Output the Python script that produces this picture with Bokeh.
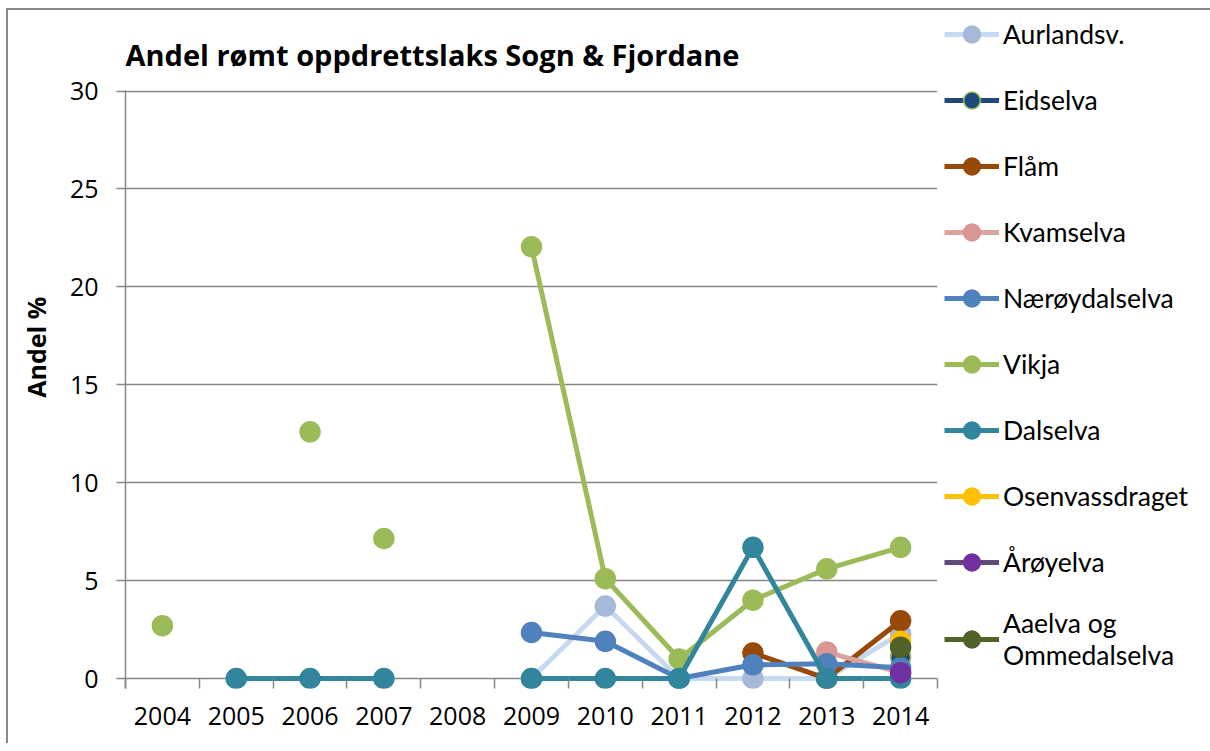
from bokeh.plotting import figure
from bokeh.models import FixedTicker, Legend, LegendItem, ColumnDataSource
from bokeh.embed import file_html
from bokeh.resources import INLINE

nan = float("nan")
years = list(range(2004, 2015))

series_names = ["Aurlandsv.", "Eidselva", "Flåm", "Kvamselva", "Nærøydalselva",
                "Vikja", "Dalselva", "Osenvassdraget", "Årøyelva", "Aaelva og\nOmmedalselva"]

aurlandsv = [nan, nan, nan, nan, nan, 0, 3.7, 0, 0, 0, 2.3]
eidselva = [nan, nan, nan, nan, nan, nan, nan, nan, nan, nan, 1.1]
flam = [nan, nan, nan, nan, nan, nan, nan, nan, 1.3, 0, 2.95]
kvamselva = [nan, nan, nan, nan, nan, nan, nan, nan, nan, 1.35, 0.3]
naeroydalselva = [nan, nan, nan, nan, nan, 2.35, 1.9, 0, 0.7, 0.75, 0.55]
vikja = [2.7, nan, 12.6, 7.15, nan, 22.05, 5.1, 1.0, 4.0, 5.6, 6.7]
dalselva = [nan, 0, 0, 0, nan, 0, 0, 0, 6.7, 0, 0]
osenvassdraget = [nan, nan, nan, nan, nan, nan, nan, nan, nan, nan, 1.9]
aroyelva = [nan, nan, nan, nan, nan, nan, nan, nan, nan, nan, 0.3]
aaelva = [nan, nan, nan, nan, nan, nan, nan, nan, nan, nan, 1.6]

# Vikja's connecting line is only drawn from 2009 on in the original
vikja_line_from = 2009

values = [aurlandsv, eidselva, flam, kvamselva, naeroydalselva,
          vikja, dalselva, osenvassdraget, aroyelva, aaelva]
line_colors = ["#C6D9F1", "#1F497D", "#984807", "#DCA3A1", "#4F81BD",
               "#9BBB59", "#31859C", "#FFC000", "#604A7B", "#4F6228"]
marker_fill = ["#A7B9D9", "#1F497D", "#984807", "#D99694", "#4F81BD",
               "#9BBB59", "#31859C", "#FFC000", "#7030A0", "#4F6228"]
marker_line = ["#A7B9D9", "#9BBB59", "#984807", "#D99694", "#4F81BD",
               "#9BBB59", "#31859C", "#FFC000", "#7030A0", "#4F6228"]

FONT = "Lato"
NFONT = "Open Sans"
BFONT = "Open Sans"
GRAY = "#868686"

p = figure(frame_width=812, frame_height=598, x_range=(2003.5, 2014.5), y_range=(-0.51, 30.03),
           output_backend="svg", toolbar_location=None,
           min_border_left=117, min_border_right=10, min_border_top=80, min_border_bottom=55)
p.styles = {"margin-left": "6px", "margin-top": "8px",
            "border-left": "2px solid #898989", "border-top": "2px solid #898989"}
p.outline_line_color = None
p.background_fill_color = "white"
p.border_fill_color = "white"

# title
p.title.text = "Andel rømt oppdrettslaks Sogn & Fjordane"
p.title.text_font = BFONT
p.title.text_font_size = "29px"
p.title.text_font_style = "bold"
p.title.align = "left"
p.title.standoff = 34
p.title.text_color = "black"

# x axis
xa = p.xaxis[0]
xa.ticker = FixedTicker(ticks=years, minor_ticks=[y - 0.5 for y in years] + [2014.5])
xa.major_tick_in = 0
xa.major_tick_out = 0
xa.minor_tick_in = 10
xa.minor_tick_out = 0
xa.minor_tick_line_color = GRAY
xa.minor_tick_line_width = 1.5
xa.axis_line_color = None
xa.major_label_text_font = NFONT
xa.major_label_text_font_size = "25px"
xa.major_label_text_color = "black"
xa.major_label_standoff = 18

# y axis
ya = p.yaxis[0]
ya.ticker = FixedTicker(ticks=[0, 5, 10, 15, 20, 25, 30])
ya.major_tick_in = 0
ya.major_tick_out = 9
ya.major_tick_line_color = GRAY
ya.major_tick_line_width = 1.5
ya.minor_tick_line_color = None
ya.axis_line_color = GRAY
ya.axis_line_width = 1.5
ya.major_label_text_font = NFONT
ya.major_label_text_font_size = "25px"
ya.major_label_text_color = "black"
ya.major_label_standoff = 18
ya.axis_label = "\u00a0" * 13 + "Andel %"
ya.axis_label_text_font = BFONT
ya.axis_label_text_font_size = "25px"
ya.axis_label_text_font_style = "bold"
ya.axis_label_text_color = "black"
ya.axis_label_standoff = 14

p.xgrid.grid_line_color = None
p.ygrid.grid_line_color = GRAY
p.ygrid.grid_line_width = 1.5

items = []
for name, vals, lc, mf, ml in zip(series_names, values, line_colors, marker_fill, marker_line):
    if name == "Vikja":
        line_vals = [v if y >= vikja_line_from else nan for y, v in zip(years, vals)]
    else:
        line_vals = vals
    src_l = ColumnDataSource(dict(x=years, y=line_vals))
    src_m = ColumnDataSource(dict(x=years, y=vals))
    lr = p.line("x", "y", source=src_l, line_color=lc, line_width=5, line_join="round")
    mr = p.scatter("x", "y", source=src_m, size=20, fill_color=mf, line_color=ml, line_width=1.5)
    items.append(LegendItem(label=name, renderers=[lr, mr]))

legend = Legend(items=items, location=(7, 17), orientation="vertical",
                glyph_width=55, glyph_height=42, label_standoff=4, spacing=24,
                padding=0, margin=0, border_line_color=None, background_fill_alpha=0,
                label_text_font=FONT, label_text_font_size="26.5px", label_text_color="black")
p.add_layout(legend, "right")

open("out.html", "w").write(file_html(p, INLINE))
